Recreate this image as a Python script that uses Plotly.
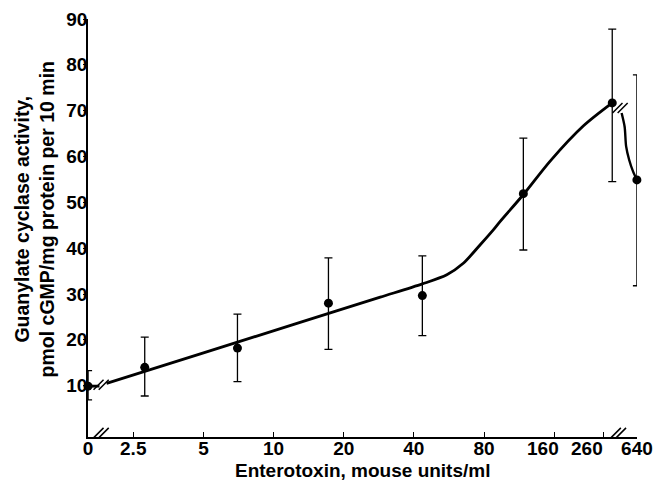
import math
import plotly.graph_objects as go

# ---------------- data ----------------
doses = [0, 2.8, 7.0, 17.2, 43.5, 118, 284, 640]          # mouse units/ml
activity = [9.9, 14.0, 18.2, 28.0, 29.65, 51.9, 71.7, 54.9]
err_high = [13.3, 20.6, 25.6, 37.9, 38.3, 64.0, 87.8, 77.8]
err_low = [6.9, 7.75, 10.9, 17.9, 20.9, 39.6, 54.5, 31.8]

tick_doses = [0, 2.5, 5, 10, 20, 40, 80, 160, 260, 640]
tick_labels = ["0", "2.5", "5", "10", "20", "40", "80", "160", "260", "640"]
y_ticks = [10, 20, 30, 40, 50, 60, 70, 80, 90]

# hand-drawn fitted curve (dose, activity)
curve_zero_x = [0, 1.79]
curve_zero_y = [9.9, 9.9]
curve_main_x = [1.92, 4.85, 13.0, 28.7, 43.5, 55.4, 65.2, 76.9, 87.7, 93.7,
                117.6, 153.8, 213.8, 284]
curve_main_y = [10.5, 16.94, 23.8, 29.3, 32.2, 34.2, 36.7, 40.7, 44.0, 45.8,
                51.6, 59.0, 66.7, 71.7]
# after the axis break (positions on the displayed axis)
curve_tail_x = [311.6, 321.0, 325.8, 335.6, 349.1, 362.4]
curve_tail_y = [69.5, 66.5, 62.2, 59.3, 56.7, 54.9]

# axis-break marks: (position on displayed axis, activity)
break_line_pts = [(1.82, 10.2), (306.9, 70.6)]
break_axis_pts = [1.82, 302.0]

# broken axis: where 0 and 640 are drawn on the log axis
ZERO_AT = 1.6
HIGH_AT = 362.4
Y_MIN, Y_MAX = -1.2, 90

# crowded labels at the right end are set off to the left (as in the original)
label_shift_px = {"160": -11, "260": -16}


def disp(d):
    if d == 0:
        return ZERO_AT
    if d >= 640:
        return HIGH_AT
    return d


FONT = "Liberation Sans, Arial, sans-serif"
BOLD = dict(family=FONT, size=19, color="black", weight="bold")

fig = go.Figure()

# curve pieces
fig.add_trace(go.Scatter(x=[disp(v) for v in curve_zero_x], y=curve_zero_y,
                         mode="lines", line=dict(color="black", width=2.8),
                         cliponaxis=False, hoverinfo="skip"))
fig.add_trace(go.Scatter(x=curve_main_x, y=curve_main_y, mode="lines",
                         line=dict(color="black", width=2.8, shape="spline", smoothing=0.8),
                         cliponaxis=False, hoverinfo="skip"))
fig.add_trace(go.Scatter(x=curve_tail_x, y=curve_tail_y, mode="lines",
                         line=dict(color="black", width=2.4, shape="spline", smoothing=0.8),
                         cliponaxis=False, hoverinfo="skip"))

# break marks "//": two diagonal strokes each, a few pixels apart
bx, by = [], []
step = 2 ** (2.6 / 70.2)  # ~2.6 px on the doubling scale
for xd, yv in break_line_pts:
    bx += [xd / step, xd * step]
    by += [yv, yv]
for xd in break_axis_pts:
    bx += [xd / step, xd * step]
    by += [-0.3, -0.3]
fig.add_trace(go.Scatter(x=bx, y=by, mode="markers",
                         marker=dict(symbol="line-ne", size=10, color="black",
                                     line=dict(color="black", width=1.5)),
                         cliponaxis=False, hoverinfo="skip"))

# points with error bars
fig.add_trace(go.Scatter(
    x=[disp(d) for d in doses], y=activity, mode="markers",
    marker=dict(color="black", size=9),
    error_y=dict(type="data", symmetric=False,
                 array=[h - a for h, a in zip(err_high, activity)],
                 arrayminus=[a - l for a, l in zip(activity, err_low)],
                 color="black", thickness=1.3, width=4),
    cliponaxis=False))

# tick labels: the shifted ones are drawn as annotations under their ticks
tick_text = ["" if t in label_shift_px else t for t in tick_labels]
annotations = []
for d, t in zip(tick_doses, tick_labels):
    if t in label_shift_px:
        annotations.append(dict(text=t, xref="x", yref="paper",
                                x=math.log10(disp(d)), y=-0.0275,
                                xshift=label_shift_px[t], showarrow=False,
                                xanchor="center", yanchor="middle", font=BOLD))

annotations += [
    dict(text="Enterotoxin, mouse units/ml", xref="paper", yref="paper",
         x=0.5, y=-0.0813, showarrow=False, yanchor="middle", font=BOLD),
    dict(text="Guanylate cyclase activity,<br>pmol cGMP/mg protein per 10 min",
         xref="paper", yref="paper", x=-0.097, y=0.52, showarrow=False,
         textangle=-90, xanchor="center", yanchor="middle",
         font=dict(family=FONT, size=19.5, color="black", weight="bold")),
]

fig.update_layout(
    width=656, height=483,
    margin=dict(l=88, r=19, t=19, b=46),
    paper_bgcolor="white", plot_bgcolor="white",
    showlegend=False,
    font=dict(family=FONT, color="black"),
    xaxis=dict(type="log", automargin=False,
               range=[math.log10(ZERO_AT) - 0.0004, math.log10(HIGH_AT) + 0.0004],
               tickmode="array",
               tickvals=[disp(v) for v in tick_doses], ticktext=tick_text,
               tickangle=0, ticklabeloverflow="allow", ticklabelstandoff=-7,
               ticks="inside", ticklen=5, tickwidth=1.2, tickcolor="black",
               showline=True, linecolor="black", linewidth=1.5,
               showgrid=False, zeroline=False, tickfont=BOLD),
    yaxis=dict(range=[Y_MIN, Y_MAX], tickmode="array", tickvals=y_ticks,
               automargin=False,
               ticks="outside", ticklen=3, tickwidth=1.2, tickcolor="black",
               ticklabelstandoff=-8,
               showline=True, linecolor="black", linewidth=1.5,
               showgrid=False, zeroline=False, tickfont=BOLD),
    annotations=annotations,
)

fig.write_html("out.html")
